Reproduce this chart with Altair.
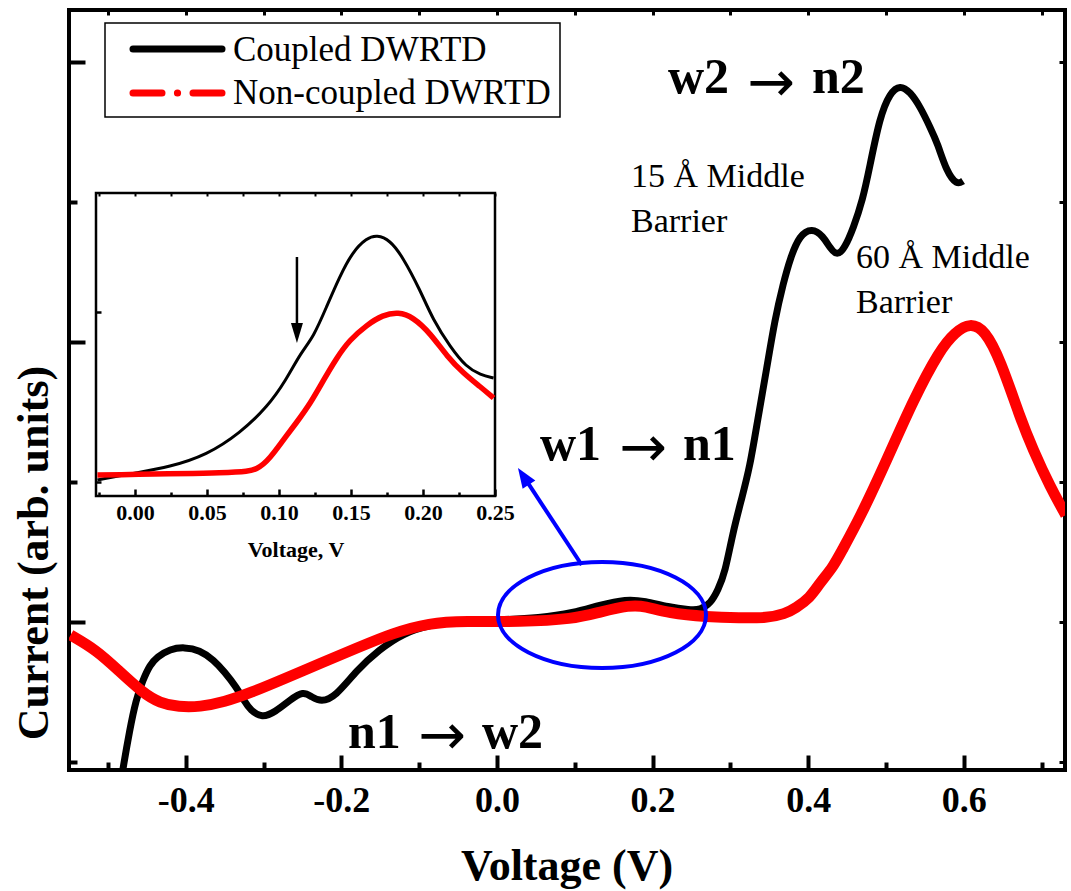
import altair as alt
import pandas as pd

# ---------------- data ----------------
coupled_v = [-0.487, -0.481, -0.472, -0.464, -0.455, -0.446, -0.437, -0.420, -0.402, -0.382,
             -0.364, -0.350, -0.335, -0.324, -0.317, -0.302, -0.285, -0.266, -0.249, -0.238,
             -0.226, -0.208, -0.180, -0.152, -0.120, -0.086, -0.048, 0.000, 0.055, 0.098,
             0.132, 0.166, 0.190, 0.220, 0.248, 0.261, 0.275, 0.284, 0.293, 0.303,
             0.314, 0.325, 0.335, 0.347, 0.357, 0.368, 0.377, 0.389, 0.405, 0.419,
             0.428, 0.437, 0.447, 0.458, 0.470, 0.479, 0.492, 0.505, 0.518, 0.531,
             0.544, 0.557, 0.566, 0.578, 0.591, 0.599]
coupled_i = [-0.271, -0.057, 0.229, 0.443, 0.586, 0.693, 0.750, 0.807, 0.821, 0.800,
             0.729, 0.643, 0.536, 0.429, 0.371, 0.314, 0.357, 0.443, 0.507, 0.464,
             0.429, 0.464, 0.657, 0.800, 0.921, 0.979, 1.007, 1.014, 1.029, 1.064,
             1.121, 1.164, 1.150, 1.107, 1.086, 1.086, 1.136, 1.229, 1.350, 1.636,
             1.871, 2.107, 2.443, 2.821, 3.157, 3.421, 3.600, 3.764, 3.814, 3.757,
             3.671, 3.614, 3.671, 3.814, 4.014, 4.250, 4.607, 4.779, 4.836, 4.786,
             4.679, 4.529, 4.421, 4.214, 4.121, 4.150]

noncoupled_v = [-0.548, -0.515, -0.487, -0.455, -0.433, -0.409, -0.382, -0.350, -0.317, -0.271,
                -0.226, -0.180, -0.134, -0.087, -0.042, 0.030, 0.098, 0.132, 0.171, 0.190,
                0.220, 0.270, 0.312, 0.347, 0.370, 0.384, 0.402, 0.415, 0.432, 0.443,
                0.467, 0.501, 0.535, 0.569, 0.589, 0.608, 0.627, 0.647, 0.672, 0.689,
                0.711, 0.731]
noncoupled_i = [0.907, 0.800, 0.657, 0.493, 0.421, 0.393, 0.393, 0.429, 0.493, 0.600,
                0.707, 0.814, 0.921, 0.993, 1.007, 1.000, 1.021, 1.071, 1.121, 1.114,
                1.064, 1.036, 1.029, 1.029, 1.057, 1.100, 1.171, 1.279, 1.393, 1.507,
                1.750, 2.157, 2.586, 2.943, 3.071, 3.136, 3.086, 2.871, 2.464, 2.229,
                1.964, 1.764]

inset_coupled_v = [-0.026, 0.000, 0.024, 0.050, 0.073, 0.092, 0.105, 0.115, 0.124, 0.133,
                   0.142, 0.151, 0.161, 0.168, 0.177, 0.186, 0.198, 0.207, 0.219, 0.230,
                   0.240, 0.249]
inset_coupled_i = [0.16, 0.23, 0.29, 0.41, 0.63, 0.89, 1.16, 1.43, 1.59, 1.89,
                   2.19, 2.44, 2.58, 2.61, 2.56, 2.39, 2.06, 1.76, 1.49, 1.29,
                   1.21, 1.18]

inset_noncoupled_v = [-0.026, 0.073, 0.085, 0.094, 0.103, 0.112, 0.122, 0.131, 0.140, 0.149,
                      0.161, 0.172, 0.183, 0.193, 0.205, 0.217, 0.228, 0.240, 0.249]
inset_noncoupled_i = [0.21, 0.23, 0.26, 0.38, 0.56, 0.73, 0.93, 1.16, 1.38, 1.56,
                      1.71, 1.81, 1.84, 1.79, 1.63, 1.39, 1.23, 1.09, 0.98]

x_major = [-0.4, -0.2, 0.0, 0.2, 0.4, 0.6]
x_minor = [-0.5, -0.3, -0.1, 0.1, 0.3, 0.5, 0.7]
x_top = [-0.5, -0.4, -0.3, -0.2, -0.1, 0.0, 0.1, 0.2, 0.3, 0.4, 0.5, 0.6, 0.7]
y_major = [1, 3, 5]
y_minor = [0, 2, 4]
y_right = [0, 1, 2, 3, 4, 5]
inset_x_major = [0.0, 0.05, 0.10, 0.15, 0.20, 0.25]
inset_x_minor = [-0.025, 0.025, 0.075, 0.125, 0.175, 0.225]
inset_x_top = sorted(inset_x_major + inset_x_minor)
inset_y_ticks = [0.14, 1.84]

x_domain = [-0.55, 0.73]
y_domain = [-0.057, 5.371]
inset_x_domain = [-0.027, 0.25]
inset_y_domain = [0.0, 3.03]

series_names = ["Coupled DWRTD", "Non-coupled DWRTD"]

# annotation anchors (data units)
ellipse_center = [0.135, 1.05]
blue_arrow = [0.109, 1.407, 0.0355, 2.029]
blue_tip = [0.027, 2.10]
inset_arrow = [0.1125, 2.39, 1.66]
inset_tip = [0.1125, 1.53]

assert len(coupled_v) == len(coupled_i)
assert len(noncoupled_v) == len(noncoupled_i)
assert len(inset_coupled_v) == len(inset_coupled_i)
assert len(inset_noncoupled_v) == len(inset_noncoupled_i)

# ---------------- layout ----------------
W, H = 996, 760
FONT = "Liberation Serif"
ARROW_FONT = "DejaVu Sans"
RED = "#ff0000"
BLUE = "#0000ff"
INTERP = "basis"

df_c = pd.DataFrame({"v": coupled_v, "i": coupled_i})
df_n = pd.DataFrame({"v": noncoupled_v, "i": noncoupled_i})
df_ic = pd.DataFrame({"v": inset_coupled_v, "i": inset_coupled_i})
df_in = pd.DataFrame({"v": inset_noncoupled_v, "i": inset_noncoupled_i})


def xsc():
    return alt.Scale(domain=x_domain, nice=False, zero=False)


def ysc():
    return alt.Scale(domain=y_domain, nice=False, zero=False)


def ixsc():
    return alt.Scale(domain=inset_x_domain, range=[27, 426], nice=False, zero=False)


def iysc():
    return alt.Scale(domain=inset_y_domain, range=[486, 183], nice=False, zero=False)


def tick_axis(orient, values, size, width, base=0, labels=False, **kw):
    return alt.Axis(orient=orient, values=values, tickSize=size, tickWidth=width,
                    tickColor="black", offset=base - size, domain=False, grid=False,
                    labels=labels, title=None, zindex=1, labelFlush=False, **kw)


main_label_kw = dict(labelFont=FONT, labelFontSize=36, labelFontWeight="bold",
                     labelColor="black", labelPadding=13,
                     labelExpr="datum.value < 0 ? '-' + format(-datum.value, '.1f') : format(datum.value, '.1f')")
inset_label_kw = dict(labelFont=FONT, labelFontSize=22, labelFontWeight="bold",
                      labelColor="black", labelPadding=6, format=".2f")

black = alt.Chart(df_c).mark_line(color="black", strokeWidth=7, clip=True,
                                  interpolate=INTERP).encode(
    x=alt.X("v:Q", scale=xsc(), axis=tick_axis("bottom", x_major, 15, 4, labels=True, **main_label_kw)),
    y=alt.Y("i:Q", scale=ysc(), axis=tick_axis("left", y_major, 16, 4)),
)
red = alt.Chart(df_n).mark_line(color=RED, strokeWidth=11, clip=True,
                                interpolate=INTERP).encode(
    x=alt.X("v:Q", scale=xsc(), axis=tick_axis("bottom", x_minor, 8, 4)),
    y=alt.Y("i:Q", scale=ysc(), axis=tick_axis("left", y_minor, 8, 4)),
)
anchor = alt.Chart(df_c).mark_point(opacity=0).encode(
    x=alt.X("v:Q", scale=xsc(), axis=tick_axis("top", x_top, 5, 3)),
    y=alt.Y("i:Q", scale=ysc(), axis=tick_axis("right", y_right, 6, 3)),
)

ELLIPSE = "M-1,0 A1,0.51 0 1,1 1,0 A1,0.51 0 1,1 -1,0 Z"
ARROW = "M0,0 L0.38,1 L-0.38,1 Z"

ell = alt.Chart(pd.DataFrame({"v": [ellipse_center[0]], "i": [ellipse_center[1]]})).mark_point(
    shape=ELLIPSE, size=208 ** 2, filled=False, color=BLUE, strokeWidth=4, opacity=1).encode(
    x=alt.X("v:Q", scale=xsc(), axis=None), y=alt.Y("i:Q", scale=ysc(), axis=None))

arrow_line = alt.Chart(pd.DataFrame({"v": [blue_arrow[0]], "i": [blue_arrow[1]],
                                     "v2": [blue_arrow[2]], "i2": [blue_arrow[3]]})).mark_rule(
    color=BLUE, strokeWidth=4).encode(
    x=alt.X("v:Q", scale=xsc(), axis=None), y=alt.Y("i:Q", scale=ysc(), axis=None),
    x2="v2:Q", y2="i2:Q")
arrow_head = alt.Chart(pd.DataFrame({"v": [blue_tip[0]], "i": [blue_tip[1]]})).mark_point(
    shape=ARROW, size=1600, filled=True, color=BLUE, opacity=1, angle=326.6).encode(
    x=alt.X("v:Q", scale=xsc(), axis=None), y=alt.Y("i:Q", scale=ysc(), axis=None))

# ---------------- inset ----------------
inset_box = alt.Chart(pd.DataFrame({"x0": [inset_x_domain[0]], "x1": [inset_x_domain[1]],
                                    "y0": [inset_y_domain[0]], "y1": [inset_y_domain[1]]})).mark_rect(
    fillOpacity=0, stroke="black", strokeWidth=2.5).encode(
    x=alt.X("x0:Q", scale=ixsc(), axis=None), x2="x1:Q",
    y=alt.Y("y0:Q", scale=iysc(), axis=None), y2="y1:Q")

inset_black = alt.Chart(df_ic).mark_line(color="black", strokeWidth=3, interpolate=INTERP).encode(
    x=alt.X("v:Q", scale=ixsc(),
            axis=tick_axis("bottom", inset_x_major, 7, 2.5, base=486 - H, labels=True, **inset_label_kw)),
    y=alt.Y("i:Q", scale=iysc(), axis=tick_axis("left", inset_y_ticks, 5, 2.5, base=-27)),
)
inset_red = alt.Chart(df_in).mark_line(color=RED, strokeWidth=5.5, interpolate=INTERP).encode(
    x=alt.X("v:Q", scale=ixsc(), axis=tick_axis("bottom", inset_x_minor, 4, 2.5, base=486 - H)),
    y=alt.Y("i:Q", scale=iysc(), axis=None),
)
inset_anchor = alt.Chart(df_ic).mark_point(opacity=0).encode(
    x=alt.X("v:Q", scale=ixsc(), axis=tick_axis("top", inset_x_top, 3, 2, base=-183)),
    y=alt.Y("i:Q", scale=iysc(), axis=None),
)
inset_arrow_line = alt.Chart(pd.DataFrame({"v": [inset_arrow[0]], "i": [inset_arrow[1]],
                                           "i2": [inset_arrow[2]]})).mark_rule(
    color="black", strokeWidth=2.5).encode(
    x=alt.X("v:Q", scale=ixsc(), axis=None), y=alt.Y("i:Q", scale=iysc(), axis=None), y2="i2:Q")
inset_arrow_head = alt.Chart(pd.DataFrame({"v": [inset_tip[0]], "i": [inset_tip[1]]})).mark_point(
    shape="M0,0 L0.3,1 L-0.3,1 Z", size=1600, filled=True, color="black", opacity=1, angle=180).encode(
    x=alt.X("v:Q", scale=ixsc(), axis=None), y=alt.Y("i:Q", scale=iysc(), axis=None))


# ---------------- text ----------------
def label(text, x, y, size, bold=False, align="left", baseline="alphabetic", angle=0, font=FONT):
    kw = dict(font=font, fontSize=size, fontWeight="bold" if bold else "normal",
              align=align, baseline=baseline, color="black", text=text)
    if angle:
        kw["angle"] = angle
    return alt.Chart(pd.DataFrame({"a": [0]})).mark_text(**kw).encode(
        x=alt.value(x), y=alt.value(y))


def transition(left, right, x_left, x_arrow, x_right, y_base, y_arrow):
    return [
        label(left, x_left, y_base, 50, bold=True),
        label("\u2192", x_arrow, y_arrow + 19, 57, align="center", font=ARROW_FONT),
        label(right, x_right, y_base, 50, bold=True),
    ]


texts = (
    transition("w2", "n2", 599, 702, 743, 83, 72)
    + transition("w1", "n1", 471, 574, 614, 450, 437)
    + transition("n1", "w2", 279, 373, 413, 738, 725)
    + [
        label("15 \u00c5 Middle", 562, 177, 34),
        label("Barrier", 562, 222, 34),
        label("60 \u00c5 Middle", 787, 258, 34),
        label("Barrier", 787, 303, 34),
        label("Voltage, V", 227, 540, 22, bold=True, align="center", baseline="middle"),
        label("Voltage (V)", W / 2, 870, 44, bold=True, align="center"),
        label("Current (arb. units)", -34, 543, 44, bold=True, align="center",
              baseline="middle", angle=270),
    ]
)

# ---------------- legend ----------------
legend_box = alt.Chart(pd.DataFrame({"a": [0]})).mark_rect(
    fillOpacity=0, stroke="black", strokeWidth=1.5).encode(
    x=alt.value(36), x2=alt.value(491), y=alt.value(13), y2=alt.value(107))
legend_black = alt.Chart(pd.DataFrame({"a": [0]})).mark_rule(
    color="black", strokeWidth=7, strokeCap="round").encode(
    x=alt.value(64), x2=alt.value(153), y=alt.value(39))
legend_red = alt.Chart(pd.DataFrame({"a": [0]})).mark_rule(
    color=RED, strokeWidth=7, strokeCap="round", strokeDash=[29, 15.4, 0.2, 15.4, 29]).encode(
    x=alt.value(64), x2=alt.value(153), y=alt.value(83))
legend_texts = [
    label(series_names[0], 164, 51, 35),
    label(series_names[1], 164, 94, 35),
]

layers = [black, red, anchor, ell, arrow_line, arrow_head,
          inset_box, inset_black, inset_red, inset_anchor, inset_arrow_line, inset_arrow_head,
          legend_box, legend_black, legend_red] + legend_texts + texts

chart = alt.layer(*layers).resolve_scale(x="independent", y="independent").properties(
    width=W, height=H,
    padding={"left": 69, "top": 10, "right": 6, "bottom": 121},
    autosize=alt.AutoSizeParams(type="none"),
    background="white",
).configure_view(stroke="black", strokeWidth=4)

chart.save("out.html", embed_options={"renderer": "svg", "actions": False})
